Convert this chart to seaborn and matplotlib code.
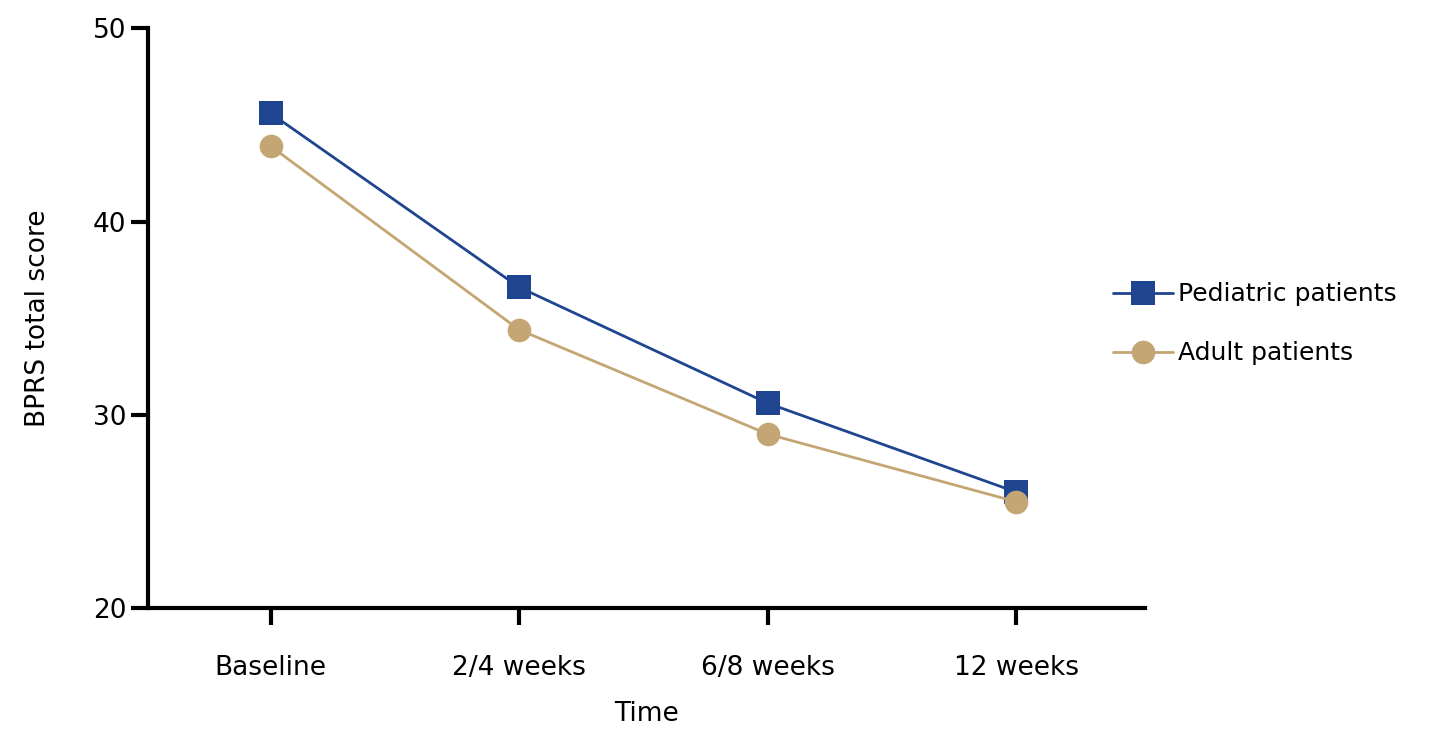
import seaborn as sns
import matplotlib.pyplot as plt
import pandas as pd

# Data
time_labels = ['Baseline', '2/4 weeks', '6/8 weeks', '12 weeks']
pediatric = [45.6, 36.6, 30.6, 26.0]
adult = [43.9, 34.4, 29.0, 25.5]

df = pd.DataFrame({
    'pos': list(range(len(time_labels))) * 2,
    'score': pediatric + adult,
    'group': ['Pediatric patients'] * 4 + ['Adult patients'] * 4,
})

sns.set_style("ticks")
plt.rcParams['font.family'] = ['DejaVu Sans']
plt.rcParams['text.color'] = 'black'
plt.rcParams['axes.labelcolor'] = 'black'
plt.rcParams['xtick.color'] = 'black'
plt.rcParams['ytick.color'] = 'black'
plt.rcParams['axes.edgecolor'] = 'black'

fig = plt.figure(figsize=(14.48, 7.46), dpi=100)
ax = fig.add_axes([0.102, 0.185, 0.689, 0.777])

sns.lineplot(data=df, x='pos', y='score', hue='group', style='group',
             markers={'Pediatric patients': 's', 'Adult patients': 'o'},
             dashes=False, palette={'Pediatric patients': '#1f4591',
                                    'Adult patients': '#c4a574'},
             markersize=17, markeredgewidth=0, linewidth=2, ax=ax)

ax.set_xlim(-0.495, 3.52)
ax.set_ylim(20, 50)
ax.set_xticks(range(len(time_labels)))
ax.set_xticklabels(time_labels)
ax.set_yticks([20, 30, 40, 50])
ax.tick_params(axis='both', labelsize=19, width=3, length=12, direction='out')
ax.tick_params(axis='x', pad=22)
ax.set_xlabel('Time', fontsize=19, labelpad=14)
ax.set_ylabel('BPRS total score', fontsize=19, labelpad=30)
for side in ['left', 'bottom']:
    ax.spines[side].set_linewidth(3)
sns.despine(ax=ax)

ax.legend(loc='center left', bbox_to_anchor=(0.945, 0.49), frameon=False,
          fontsize=18, handlelength=2.4, labelspacing=1.4, handletextpad=0.2)

fig.savefig('out.png', dpi=100)
